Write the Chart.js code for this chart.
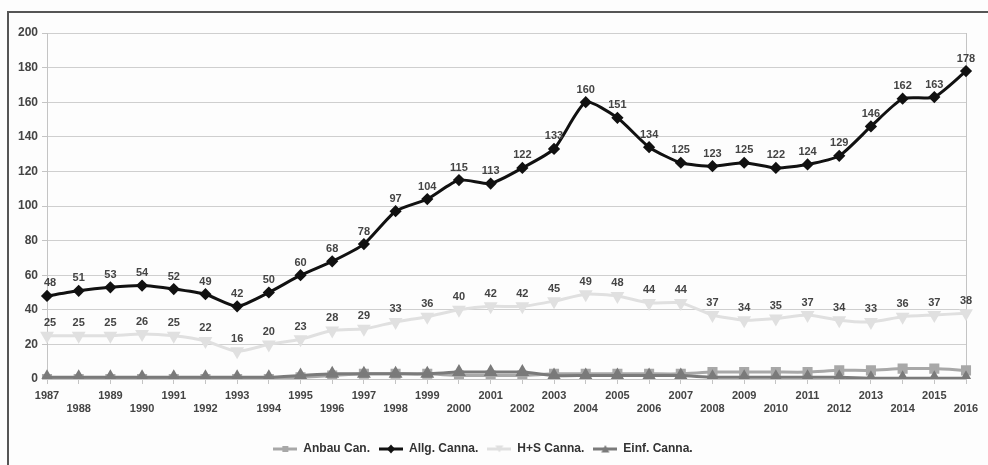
<!DOCTYPE html>
<html>
<head>
<meta charset="utf-8">
<script src="https://cdn.jsdelivr.net/npm/chart.js@4/dist/chart.umd.min.js"></script>
<style>
    html, body { margin: 0; padding: 0; background: #fff; }
    #wrap { position: relative; width: 988px; height: 465px; overflow: hidden; background: #fdfdfd; }
    #frame { position: absolute; left: 7px; top: 11px; width: 1100px; height: 600px;
             border-left: 2px solid #555; border-top: 2px solid #555; }
    #ctChart { position: absolute; left: 0; top: 0; }
</style>
</head>
<body>
<div id="wrap">
    <div id="frame"></div>
    <canvas id="ctChart" width="988" height="465"></canvas>
</div>
<script>
const years = ['1987', '1988', '1989', '1990', '1991', '1992', '1993', '1994', '1995', '1996',
    '1997', '1998', '1999', '2000', '2001', '2002', '2003', '2004', '2005', '2006',
    '2007', '2008', '2009', '2010', '2011', '2012', '2013', '2014', '2015', '2016'];

const anbau = [0, 0, 0, 0, 0, 0, 0, 0, 1, 2, 3, 3, 3, 2, 2, 2, 3, 3, 3, 3, 3, 4, 4, 4, 4, 5, 5, 6, 6, 5];
const allg = [48, 51, 53, 54, 52, 49, 42, 50, 60, 68, 78, 97, 104, 115, 113, 122, 133, 160, 151, 134,
    125, 123, 125, 122, 124, 129, 146, 162, 163, 178];
const hs = [25, 25, 25, 26, 25, 22, 16, 20, 23, 28, 29, 33, 36, 40, 42, 42, 45, 49, 48, 44,
    44, 37, 34, 35, 37, 34, 33, 36, 37, 38];
const einf = [1, 1, 1, 1, 1, 1, 1, 1, 2, 3, 3, 3, 3, 4, 4, 4, 2, 2, 2, 2, 2, 1, 1, 1, 1, 1, 0.5, 0.5, 0.5, 0.5];

const yTicks = [0, 20, 40, 60, 80, 100, 120, 140, 160, 180, 200];

const FONT = '"Liberation Sans", Arial, sans-serif';

// little line + marker pictures for the legend
function legendIcon(color, marker) {
    const c = document.createElement('canvas');
    c.width = 24; c.height = 10;
    const g = c.getContext('2d');
    g.strokeStyle = color; g.fillStyle = color; g.lineWidth = 3;
    g.beginPath(); g.moveTo(0, 5); g.lineTo(24, 5); g.stroke();
    g.beginPath();
    if (marker === 'rect') g.rect(9, 2, 6, 6);
    if (marker === 'diamond') { g.moveTo(12, 0.5); g.lineTo(16, 5); g.lineTo(12, 9.5); g.lineTo(8, 5); }
    if (marker === 'down') { g.moveTo(8, 1.5); g.lineTo(16, 1.5); g.lineTo(12, 8.5); }
    if (marker === 'up') { g.moveTo(12, 1); g.lineTo(16, 8.5); g.lineTo(8, 8.5); }
    g.closePath(); g.fill();
    return c;
}

const valueLabels = {
    id: 'valueLabels',
    afterDatasetsDraw(chart) {
        const ctx = chart.ctx;
        ctx.save();
        ctx.font = 'bold 11px ' + FONT;
        ctx.fillStyle = '#444';
        ctx.textAlign = 'center';
        ctx.textBaseline = 'bottom';
        chart.data.datasets.forEach((ds, di) => {
            if (!ds.showValues) return;
            chart.getDatasetMeta(di).data.forEach((pt, i) => {
                ctx.fillText(ds.data[i], pt.x + (i === 0 ? 3 : 0), pt.y - 7);
            });
        });
        ctx.restore();
    }
};

const ctx = document.getElementById('ctChart');

new Chart(ctx, {
    type: 'line',
    data: {
        labels: years,
        datasets: [
            {
                label: 'Anbau Can.',
                data: anbau,
                borderColor: '#a8a8a8',
                backgroundColor: '#a8a8a8',
                borderWidth: 3,
                pointStyle: 'rect',
                pointRadius: 5,
                tension: 0.2,
                order: 3,
                icon: legendIcon('#a8a8a8', 'rect')
            },
            {
                label: 'Allg. Canna.',
                data: allg,
                borderColor: '#111',
                backgroundColor: '#111',
                borderWidth: 3,
                pointStyle: 'rectRot',
                pointRadius: 4,
                tension: 0.2,
                showValues: true,
                order: 0,
                icon: legendIcon('#111', 'diamond')
            },
            {
                label: 'H+S Canna.',
                data: hs,
                borderColor: '#e0e0e0',
                backgroundColor: '#e0e0e0',
                borderWidth: 3,
                pointStyle: 'triangle',
                rotation: 180,
                pointRadius: 5,
                tension: 0.2,
                showValues: true,
                order: 1,
                icon: legendIcon('#e0e0e0', 'down')
            },
            {
                label: 'Einf. Canna.',
                data: einf,
                borderColor: '#7a7a7a',
                backgroundColor: '#7a7a7a',
                borderWidth: 3,
                pointStyle: 'triangle',
                pointRadius: 5,
                tension: 0.2,
                order: 2,
                icon: legendIcon('#7a7a7a', 'up')
            }
        ]
    },
    options: {
        responsive: false,
        animation: false,
        layout: {
            padding: { top: 33, right: 22, left: 0, bottom: 0 }
        },
        plugins: {
            legend: {
                position: 'bottom',
                labels: {
                    usePointStyle: true,
                    pointStyleWidth: 24,
                    padding: 9,
                    color: '#333',
                    font: { family: FONT, size: 12, weight: 'bold' },
                    sort: (a, b) => a.datasetIndex - b.datasetIndex,
                    generateLabels(chart) {
                        const items = Chart.defaults.plugins.legend.labels.generateLabels(chart);
                        items.forEach(it => {
                            it.pointStyle = chart.data.datasets[it.datasetIndex].icon;
                            it.rotation = 0;
                        });
                        return items;
                    }
                }
            },
            tooltip: { enabled: false }
        },
        scales: {
            x: {
                offset: false,
                afterFit(scale) { scale.height = 55; },
                grid: {
                    drawOnChartArea: true,
                    color: c => (c.index === years.length - 1 ? '#c4c4c4' : 'transparent'),
                    tickColor: '#c4c4c4',
                    tickLength: 5
                },
                border: { color: '#c4c4c4' },
                ticks: {
                    autoSkip: false,
                    maxRotation: 0,
                    padding: 5,
                    color: '#444',
                    font: { family: FONT, size: 11, weight: 'bold' },
                    callback(v, i) { return i % 2 ? ['', years[i]] : years[i]; }
                }
            },
            y: {
                min: yTicks[0],
                max: yTicks[yTicks.length - 1],
                afterFit(scale) { scale.width = 47; },
                afterBuildTicks(scale) { scale.ticks = yTicks.map(v => ({ value: v })); },
                grid: { color: '#cfcfcf', tickLength: 5, tickColor: '#c4c4c4' },
                border: { color: '#c4c4c4' },
                ticks: {
                    padding: 4,
                    color: '#444',
                    font: { family: FONT, size: 12, weight: 'bold' }
                }
            }
        }
    },
    plugins: [valueLabels]
});
</script>
</body>
</html>
